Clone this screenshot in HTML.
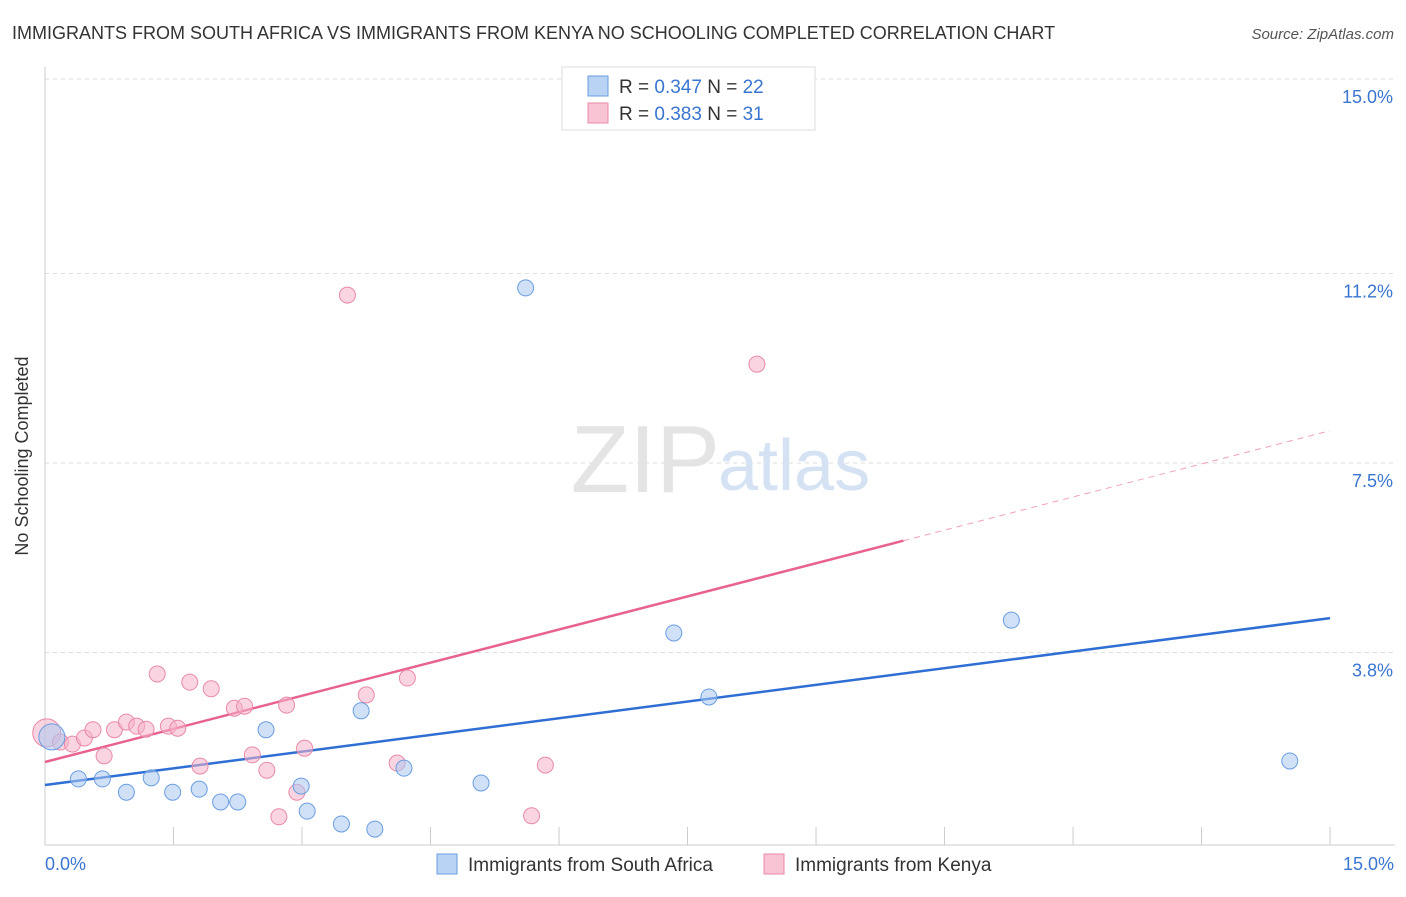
<!DOCTYPE html>
<html><head><meta charset="utf-8"><style>
body{margin:0;background:#fff;font-family:"Liberation Sans",sans-serif;}
svg text{font-family:"Liberation Sans",sans-serif;}
</style></head><body>
<svg width="1406" height="892" xmlns="http://www.w3.org/2000/svg" id="chart">
<text x="12" y="39" font-size="18" fill="#333">IMMIGRANTS FROM SOUTH AFRICA VS IMMIGRANTS FROM KENYA NO SCHOOLING COMPLETED CORRELATION CHART</text>
<text x="1394" y="39" font-size="15" fill="#555" font-style="italic" text-anchor="end">Source: ZipAtlas.com</text>
<g id="grid"></g>
<text x="720" y="492" font-size="96" fill="#e4e4e4" text-anchor="end" font-family="Liberation Serif">ZIP</text>
<text x="718" y="490" font-size="72" fill="#d4e2f4">atlas</text>
<line x1="45" y1="67" x2="45" y2="845" stroke="#ccc"/>
<line x1="45" y1="845" x2="1395" y2="845" stroke="#ccc"/>
<g id="ticks"></g>
<g id="lines"></g>
<g id="pts"></g>
<text x="28" y="456" font-size="18" fill="#333" text-anchor="middle" transform="rotate(-90 28 456)">No Schooling Completed</text>
<text x="45" y="870" font-size="18" fill="#3a75d0">0.0%</text>
<text x="1394" y="870" font-size="18" fill="#3a75d0" text-anchor="end">15.0%</text>
<g>
<rect x="562" y="67" width="253" height="63" fill="#fff" stroke="#ddd"/>
<rect x="588" y="76" width="20" height="20" fill="#b8d3f4" stroke="#6a9de0"/>
<rect x="588" y="103" width="20" height="20" fill="#f8c3d3" stroke="#e88aa8"/>
<text x="619" y="93" font-size="19" fill="#333">R = <tspan fill="#3a75d0">0.347</tspan>   N = <tspan fill="#3a75d0">22</tspan></text>
<text x="619" y="120" font-size="19" fill="#333">R = <tspan fill="#3a75d0">0.383</tspan>   N =  <tspan fill="#3a75d0">31</tspan></text>
</g>
<g>
<rect x="437" y="854" width="20" height="20" fill="#b8d3f4" stroke="#6a9de0"/>
<text x="468" y="871" font-size="19" fill="#333">Immigrants from South Africa</text>
<rect x="764" y="854" width="20" height="20" fill="#f8c3d3" stroke="#e88aa8"/>
<text x="795" y="871" font-size="19" fill="#333">Immigrants from Kenya</text>
</g>
</svg>
<script>
const yTicks=[3.8,7.5,11.2,15.0];
const yTickLabels=["3.8%","7.5%","11.2%","15.0%"];
const blueX=[0.08,0.39,0.67,0.95,1.24,1.49,1.80,2.05,2.25,2.58,2.99,3.06,3.46,3.69,3.85,4.19,5.09,5.61,7.34,7.75,11.28,14.53];
const blueY=[2.15,1.33,1.33,1.07,1.35,1.07,1.13,0.88,0.88,2.29,1.19,0.70,0.45,2.66,0.35,1.54,1.25,10.92,4.18,2.93,4.43,1.68];
const pinkX=[0.02,0.18,0.32,0.46,0.56,0.69,0.81,0.95,1.07,1.18,1.31,1.44,1.55,1.69,1.81,1.94,2.21,2.33,2.42,2.59,2.73,2.82,2.94,3.03,3.53,3.75,4.11,4.23,5.68,5.84,8.31];
const pinkY=[2.23,2.05,2.01,2.13,2.29,1.78,2.29,2.44,2.36,2.30,3.38,2.36,2.32,3.22,1.58,3.09,2.71,2.75,1.80,1.50,0.59,2.77,1.07,1.93,10.78,2.97,1.64,3.30,0.61,1.60,9.43];
const blueTrend=[1.21,4.47];
const pinkTrend=[1.66,8.13];
const pinkSolidEnd=10.02;
const NS="http://www.w3.org/2000/svg";
const sx=v=>45+v*85.67, sy=v=>847-v*51.2;
function mk(tag,attrs,parent){const e=document.createElementNS(NS,tag);for(const k in attrs)e.setAttribute(k,attrs[k]);document.getElementById(parent).appendChild(e);return e;}
yTicks.forEach((t,i)=>{
 const l=mk('line',{x1:45,x2:1395,y1:sy(t),y2:sy(t),stroke:'#ddd','stroke-dasharray':'4,4'},'grid');
 
 
 const tx=mk('text',{x:1393,y:sy(t)+24,'font-size':18,fill:'#3a75d0','text-anchor':'end'},'grid');
 tx.textContent=yTickLabels[i];
 
 
});
for(let i=0;i<=10;i++){
 const l=mk('line',{x1:sx(i*1.5),x2:sx(i*1.5),y1:827,y2:845,stroke:'#ccc'},'ticks');
 
 
}
const pf=x=>pinkTrend[0]+(pinkTrend[1]-pinkTrend[0])*x/15;
let a=mk('line',{x1:sx(0),y1:sy(blueTrend[0]),x2:sx(15),y2:sy(blueTrend[1]),stroke:'#2f6fd4','stroke-width':2.5},'lines');


a=mk('line',{x1:sx(0),y1:sy(pf(0)),x2:sx(pinkSolidEnd),y2:sy(pf(pinkSolidEnd)),stroke:'#e8628f','stroke-width':2.5},'lines');


a=mk('line',{x1:sx(pinkSolidEnd),y1:sy(pf(pinkSolidEnd)),x2:sx(15),y2:sy(pf(15)),stroke:'#e8628f','stroke-width':1,'stroke-dasharray':'6,5',opacity:0.6},'lines');


pinkX.forEach((x,i)=>{
 const c=mk('circle',{cx:sx(x),cy:sy(pinkY[i]),r:i===0?14:8,fill:'#f5b3c8','fill-opacity':0.55,stroke:'#e88aa8','stroke-width':1},'pts');
 
 
});
blueX.forEach((x,i)=>{
 const c=mk('circle',{cx:sx(x),cy:sy(blueY[i]),r:i===0?13:8,fill:'#a9c8f0','fill-opacity':0.55,stroke:'#6a9de0','stroke-width':1},'pts');
 
 
});
</script>
</body></html>
